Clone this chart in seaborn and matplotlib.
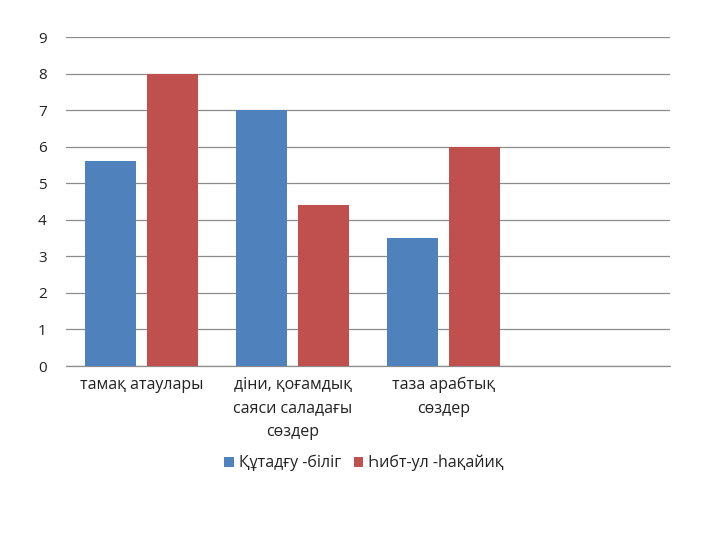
import matplotlib
matplotlib.use("Agg")
import matplotlib.pyplot as plt
import seaborn as sns
import pandas as pd

categories = ["тамақ атаулары", "діни, қоғамдық\nсаяси саладағы\nсөздер", "таза арабтық\nсөздер"]
series_names = ["Құтадғу -біліг", "Һибт-ул -һақайиқ"]
kutadgu = [5.6, 7.0, 3.5]
hibat = [8.0, 4.4, 6.0]
yticks = list(range(0, 10))

sns.set_theme(style="white")
plt.rcParams['font.family'] = ['Open Sans', 'DejaVu Sans']

df = pd.DataFrame({
    "cat": categories * 2,
    "value": kutadgu + hibat,
    "series": [series_names[0]] * 3 + [series_names[1]] * 3,
})

fig = plt.figure(figsize=(7.2, 5.4), dpi=100)
ax = fig.add_axes([66/720, 1 - 366/540, (670 - 66)/720, (366 - 37)/540])
sns.barplot(data=df, x="cat", y="value", hue="series", order=categories,
            hue_order=series_names, palette=["#4F81BD", "#C0504D"],
            width=0.83, gap=0.19, ax=ax, saturation=1, legend=True,
            linewidth=0, edgecolor="none")
ax.set_xlim(-0.5, 3.5)
ax.set_ylim(0, 9)
ax.set_yticks(yticks)
ax.set_yticklabels([str(t) for t in yticks], fontsize=11, color="#222222")
ax.set_xticks(range(len(categories)))
ax.set_xticklabels(categories, fontsize=11.5, color="#222222", linespacing=1.6, va="top")
ax.tick_params(axis="x", length=0, pad=8)
ax.tick_params(axis="y", length=0, pad=14)
ax.set_xlabel("")
ax.set_ylabel("")
ax.grid(axis="y", color="#8c8c8c", linewidth=0.9)
ax.axhline(0, color="#8c8c8c", linewidth=0.9, clip_on=False, zorder=0.5)
ax.set_axisbelow(True)
for s in ax.spines.values():
    s.set_visible(False)

handles, labels = ax.get_legend_handles_labels()
ax.legend(handles, labels, loc="center", bbox_to_anchor=(364/720, 1 - 463/540),
          bbox_transform=fig.transFigure, ncol=2, frameon=False, fontsize=11.5,
          handlelength=0.6, handleheight=0.6, handletextpad=0.3, columnspacing=0.8,
          labelcolor="#222222")

fig.savefig("out.png", dpi=100)
